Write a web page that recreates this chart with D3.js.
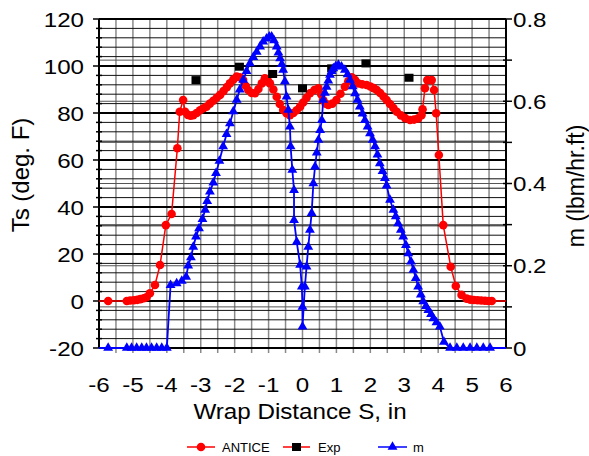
<!DOCTYPE html>
<html><head><meta charset="utf-8">
<script src="https://cdn.jsdelivr.net/npm/d3@7"></script>
<style>body{margin:0;background:#fff}svg{display:block}text{font-family:"Liberation Sans",Arial,sans-serif}</style>
</head><body><svg id="c" width="589" height="456"></svg>
<script>
// ---- data ----
const xTicks = [-6,-5,-4,-3,-2,-1,0,1,2,3,4,5,6];
const leftTicks = [-20,0,20,40,60,80,100,120];
const rightTicks = [0,0.2,0.4,0.6,0.8];
const anticeX = [-6.0,-5.73,-5.18,-5.08,-4.97,-4.87,-4.78,-4.68,-4.6,-4.5,-4.35,-4.2,-4.03,-3.86,-3.69,-3.62,-3.52,-3.46,-3.38,-3.3,-3.22,-3.12,-3.02,-2.92,-2.83,-2.73,-2.63,-2.53,-2.43,-2.33,-2.23,-2.14,-2.04,-1.94,-1.85,-1.75,-1.67,-1.6,-1.5,-1.4,-1.3,-1.2,-1.11,-1.03,-0.96,-0.86,-0.76,-0.67,-0.57,-0.47,-0.37,-0.27,-0.17,-0.07,0.02,0.12,0.22,0.35,0.47,0.55,0.61,0.68,0.76,0.88,1.0,1.12,1.25,1.35,1.45,1.55,1.64,1.76,1.89,2.0,2.1,2.19,2.29,2.39,2.48,2.58,2.68,2.78,2.9,3.03,3.17,3.29,3.41,3.51,3.54,3.61,3.68,3.81,3.88,3.94,4.02,4.15,4.37,4.52,4.69,4.84,4.95,5.05,5.16,5.27,5.38,5.48,5.58,6.0];
const anticeT = [0,0,0,0.2,0.3,0.5,0.8,1.2,1.6,3.3,6.8,15.3,32.3,37,65,80.5,85.5,80.5,79.2,78.8,79.1,80,81.2,82,82.7,84,85.2,86.5,87.7,89.3,91,92.6,94.2,95.5,95.2,94,91.5,89.8,88.5,88.4,90.2,92.6,94.8,94,92.6,90,86.9,83.8,81.3,79.9,79.1,80,81.2,82.7,84.5,86.5,88.4,89.8,90.5,88,85.5,84,83.4,84,85.5,88.2,91.2,93.5,95.2,94,92.6,92.2,91.9,91.3,90.6,89.8,88.5,87,85.5,83.8,82.1,80.5,79,77.8,77,77.2,77.7,79.1,81.6,90.5,94,94,89.8,79.9,62.1,32.3,14.6,6.4,2.6,1.0,0.6,0.4,0.3,0.2,0.1,0,0,0];
const expX = [-3.14,-1.86,-0.88,0.0,0.86,1.87,3.14];
const expT = [94,99.7,96.6,90.5,99,101.1,95];
const mX = [-6.0,-5.73,-5.18,-5.04,-4.89,-4.74,-4.6,-4.45,-4.3,-4.15,-4.0,-3.89,-3.71,-3.56,-3.43,-3.37,-3.29,-3.22,-3.14,-3.05,-2.95,-2.87,-2.81,-2.73,-2.63,-2.55,-2.45,-2.34,-2.24,-2.14,-2.04,-1.94,-1.85,-1.75,-1.65,-1.55,-1.45,-1.35,-1.25,-1.16,-1.06,-0.98,-0.91,-0.84,-0.76,-0.71,-0.66,-0.61,-0.57,-0.52,-0.47,-0.42,-0.37,-0.35,-0.3,-0.25,-0.25,-0.17,-0.07,-0.02,0.0,0.0,0.07,0.12,0.17,0.22,0.27,0.32,0.37,0.42,0.47,0.52,0.57,0.61,0.66,0.71,0.76,0.81,0.86,0.91,0.98,1.06,1.15,1.25,1.33,1.4,1.48,1.55,1.62,1.69,1.77,1.84,1.92,1.99,2.07,2.14,2.21,2.28,2.36,2.43,2.48,2.58,2.68,2.75,2.82,2.9,2.97,3.05,3.12,3.2,3.27,3.34,3.41,3.49,3.56,3.64,3.71,3.79,3.86,3.95,4.05,4.17,4.35,4.55,4.74,4.94,5.14,5.33,5.53,6.0];
const mVal = [0,0,0,0,0,0,0,0,0,0,0,0.153,0.157,0.163,0.173,0.2,0.22,0.246,0.271,0.291,0.313,0.336,0.357,0.38,0.402,0.425,0.455,0.49,0.52,0.546,0.575,0.603,0.628,0.652,0.673,0.692,0.707,0.72,0.733,0.745,0.752,0.757,0.757,0.748,0.733,0.718,0.704,0.69,0.676,0.648,0.611,0.579,0.538,0.49,0.433,0.384,0.311,0.258,0.202,0.149,0.1,0.052,0.149,0.198,0.246,0.287,0.328,0.4,0.441,0.475,0.506,0.53,0.554,0.603,0.62,0.635,0.65,0.664,0.673,0.68,0.685,0.688,0.684,0.676,0.665,0.652,0.636,0.619,0.603,0.587,0.57,0.554,0.538,0.522,0.506,0.49,0.47,0.449,0.43,0.413,0.395,0.36,0.336,0.32,0.303,0.287,0.271,0.25,0.23,0.21,0.19,0.17,0.149,0.13,0.113,0.102,0.092,0.082,0.072,0.062,0.052,0.015,0,0,0,0,0,0,0,0];
const legendNames = ["ANTICE","Exp","m"];

// ---- chart ----
const L=99,R=506,T=19,B=348;
const SX=1.15;
const svg=d3.select("#c");
const x=d3.scaleLinear().domain([-6,6]).range([L,R]);
const yL=d3.scaleLinear().domain([-20,120]).range([B,T]);
const yR=d3.scaleLinear().domain([0,0.8]).range([B,T]);

const g=svg.append("g");
// vertical grid every 0.5
g.selectAll(".vg").data(d3.range(-5.5,6,0.5)).join("line")
 .attr("x1",d=>x(d)).attr("x2",d=>x(d)).attr("y1",T).attr("y2",B+5)
 .attr("stroke","#8a8a8a").attr("stroke-width",1.5);
// right-axis grid every 0.1
g.selectAll(".rg").data(d3.range(0.1,0.8,0.1)).join("line")
 .attr("x1",L).attr("x2",R).attr("y1",d=>yR(d)).attr("y2",d=>yR(d))
 .attr("stroke","#555").attr("stroke-width",1);
// left minor grid every 4
g.selectAll(".lm").data(d3.range(-16,120,4).filter(v=>v%20!==0)).join("line")
 .attr("x1",L).attr("x2",R).attr("y1",d=>yL(d)).attr("y2",d=>yL(d))
 .attr("stroke","#111").attr("stroke-width",1);
// left major grid
g.selectAll(".lM").data(leftTicks.filter(v=>v>-20)).join("line")
 .attr("x1",L).attr("x2",R).attr("y1",d=>yL(d)).attr("y2",d=>yL(d))
 .attr("stroke","#000").attr("stroke-width",2);

// axes
svg.append("line").attr("x1",L).attr("x2",L).attr("y1",T).attr("y2",B).attr("stroke","#000").attr("stroke-width",2);
svg.selectAll(".ltm").data(d3.range(-20,121,4)).join("line")
 .attr("x1",d=>d%20===0?L-6:L-3).attr("x2",L+3).attr("y1",d=>yL(d)).attr("y2",d=>yL(d))
 .attr("stroke","#000").attr("stroke-width",1.5);
svg.selectAll(".ltl").data(leftTicks).join("text")
 .attr("transform",d=>`translate(${L-15},${yL(d)}) scale(${SX},1)`).attr("dy","0.36em").attr("text-anchor","end")
 .attr("font-size",21).text(d=>d);

svg.append("line").attr("x1",R).attr("x2",R).attr("y1",T).attr("y2",B).attr("stroke","#000").attr("stroke-width",2);
svg.selectAll(".rtm").data(d3.range(0,0.81,0.1)).join("line")
 .attr("x1",R-3).attr("x2",R+6).attr("y1",d=>yR(d)).attr("y2",d=>yR(d))
 .attr("stroke","#000").attr("stroke-width",1.5);
svg.selectAll(".rtl").data(rightTicks).join("text")
 .attr("transform",d=>`translate(${R+7},${yR(d)}) scale(${SX},1)`).attr("dy","0.36em").attr("text-anchor","start")
 .attr("font-size",21).text(d=>d===0?"0":d3.format(".1f")(d));

svg.append("line").attr("x1",L).attr("x2",R).attr("y1",B).attr("y2",B).attr("stroke","#000").attr("stroke-width",2);
svg.append("line").attr("x1",L).attr("x2",R).attr("y1",T).attr("y2",T).attr("stroke","#000").attr("stroke-width",2);
svg.selectAll(".xtl").data(xTicks).join("text")
 .attr("transform",d=>`translate(${x(d)},${B+44}) scale(${SX},1)`).attr("text-anchor","middle")
 .attr("font-size",21).text(d=>d);

// titles
svg.append("text").attr("transform",`translate(300,419) scale(1.1,1)`).attr("text-anchor","middle").attr("font-size",22).text("Wrap Distance S, in");
svg.append("text").attr("transform","translate(29,175) rotate(-90)").attr("text-anchor","middle").attr("font-size",24).text("Ts (deg. F)");
svg.append("text").attr("transform","translate(584,186) rotate(-90)").attr("text-anchor","middle").attr("font-size",23).text("m (lbm/hr.ft)");

// series
const ant=anticeX.map((v,i)=>[v,anticeT[i]]);
const mm=mX.map((v,i)=>[v,mVal[i]]);
const ex=expX.map((v,i)=>[v,expT[i]]);
svg.append("clipPath").attr("id","pc").append("rect").attr("x",L).attr("y",T-6).attr("width",R-L).attr("height",B-T+12);
const sg=svg.append("g").attr("clip-path","url(#pc)");

sg.append("path").datum(ant).attr("fill","none").attr("stroke","#ff0000").attr("stroke-width",1.5)
 .attr("d",d3.line().x(d=>x(d[0])).y(d=>yL(d[1])));
sg.selectAll(".ac").data(ant.filter(d=>Math.abs(d[0])<5.9)).join("circle")
 .attr("cx",d=>x(d[0])).attr("cy",d=>yL(d[1])).attr("r",4.3).attr("fill","#ff0000");

sg.selectAll(".ex").data(ex).join("rect")
 .attr("x",d=>x(d[0])-4.5).attr("y",d=>yL(d[1])-4).attr("width",9).attr("height",8).attr("fill","#000");

sg.append("path").datum(mm).attr("fill","none").attr("stroke","#0000ff").attr("stroke-width",1.8)
 .attr("d",d3.line().x(d=>x(d[0])).y(d=>yR(d[1])));
const tri=d3.symbol().type(d3.symbolTriangle).size(42);
sg.selectAll(".mt").data(mm.filter(d=>Math.abs(d[0])<5.9)).join("path")
 .attr("transform",d=>`translate(${x(d[0])},${yR(d[1])})`).attr("d",tri).attr("fill","#0000ff");

// legend
const lg=svg.append("g");
const ly=447;
const items=[{x1:187,x2:215,name:legendNames[0],tx:222},{x1:283,x2:310,name:legendNames[1],tx:318},{x1:378,x2:407,name:legendNames[2],tx:413}];
items.forEach((it,i)=>{
  lg.append("line").attr("x1",it.x1).attr("x2",it.x2).attr("y1",ly).attr("y2",ly)
    .attr("stroke",i===2?"#0000ff":"#ff0000").attr("stroke-width",1.5);
  const cx=(it.x1+it.x2)/2;
  if(i===0) lg.append("circle").attr("cx",cx).attr("cy",ly).attr("r",4.3).attr("fill","#ff0000");
  if(i===1) lg.append("rect").attr("x",cx-4.5).attr("y",ly-4).attr("width",9).attr("height",8).attr("fill","#000");
  if(i===2) lg.append("path").attr("transform",`translate(${cx},${ly})`).attr("d",tri).attr("fill","#0000ff");
  lg.append("text").attr("x",it.tx).attr("y",ly).attr("dy","0.35em").attr("font-size",13).text(it.name);
});
</script></body></html>
